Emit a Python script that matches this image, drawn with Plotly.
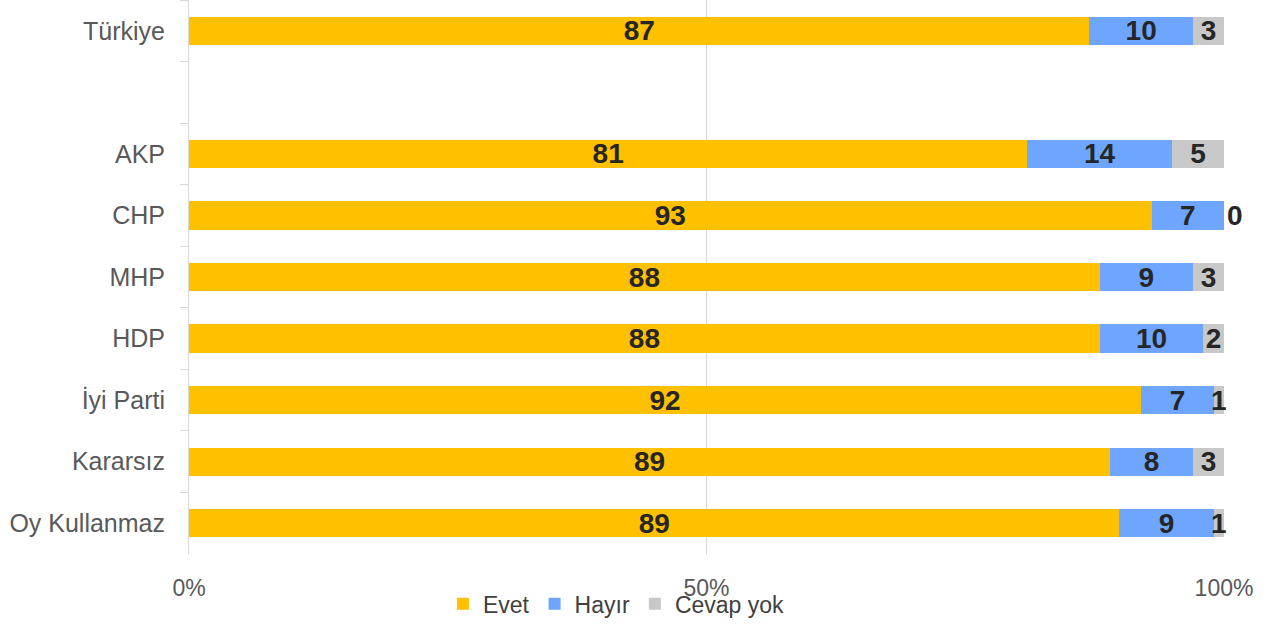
import plotly.graph_objects as go

categories = ["Türkiye", " ", "AKP", "CHP", "MHP", "HDP", "İyi Parti", "Kararsız", "Oy Kullanmaz"]
evet = [87, None, 81, 93, 88, 88, 92, 89, 89]
hayir = [10, None, 14, 7, 9, 10, 7, 8, 9]
cevap_yok = [3, None, 5, 0, 3, 2, 1, 3, 1]
x_ticks = [0, 50, 100]
x_tick_labels = ["0%", "50%", "100%"]

series = [("Evet", evet, "#FFC000"), ("Hayır", hayir, "#6EA6FF"), ("Cevap yok", cevap_yok, "#C8C8C8")]

fig = go.Figure()
for name, vals, color in series:
    fig.add_trace(go.Bar(
        y=categories, x=vals, name=name, orientation="h",
        marker=dict(color=color, line=dict(width=0)),
        text=[("" if v is None else str(v)) for v in vals],
        texttemplate="%{text}",
        textposition=[("outside" if v == 0 else "inside") for v in vals],
        insidetextanchor="middle", textangle=0,
        textfont=dict(family="Liberation Sans", size=28, color="#262626", weight="bold"),
        cliponaxis=False,
    ))

fig.update_layout(
    barmode="stack", barnorm="percent", bargap=0.54,
    width=1277, height=627,
    margin=dict(l=189, r=53, t=0, b=73, autoexpand=False),
    plot_bgcolor="white", paper_bgcolor="white",
    uniformtext=dict(mode="show", minsize=28),
    font=dict(family="Liberation Sans", size=23, color="#595959"),
    legend=dict(orientation="h", x=0.413, xanchor="center", y=-0.09, yanchor="middle",
                bgcolor="rgba(0,0,0,0)", font=dict(size=23, color="#404040"),
                itemwidth=30, traceorder="normal"),
    showlegend=True,
)
fig.update_xaxes(range=[0, 100], tickvals=x_ticks, ticktext=x_tick_labels,
                 showgrid=True, gridcolor="#D9D9D9", gridwidth=1, automargin=False,
                 zeroline=False, showline=False, ticks="", ticklabelstandoff=18,
                 tickfont=dict(size=23, color="#595959"))
fig.update_yaxes(categoryorder="array", categoryarray=categories, autorange="reversed",
                 showline=True, linecolor="#D9D9D9", linewidth=1, automargin=False,
                 ticks="outside", tickson="boundaries", ticklen=8, tickcolor="#D9D9D9",
                 showgrid=False, ticklabelstandoff=18,
                 tickfont=dict(size=25, color="#595959"))

fig.write_html("out.html", config={"displayModeBar": False},
               post_script="document.body.style.margin='0px';")
